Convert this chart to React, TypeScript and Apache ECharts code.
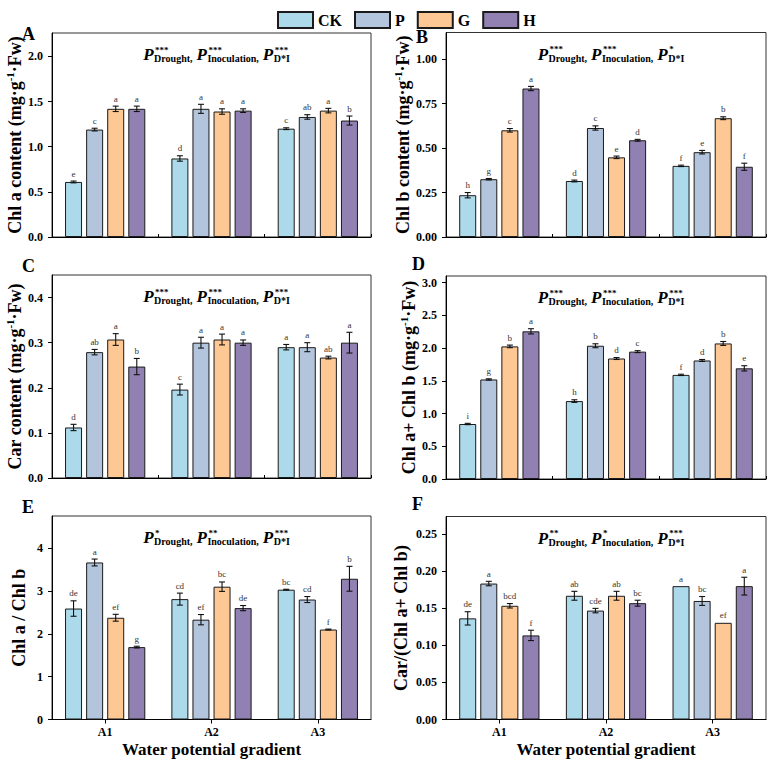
import React, { useEffect, useRef } from 'react';
import * as echarts from 'echarts';

const FONT = 'Liberation Serif';

const categories = ['A1', 'A2', 'A3'];
const groups = ['CK', 'P', 'G', 'H'];
const colors = ['#ADDAEA', '#B3C5DC', '#FEC894', '#9181B3'];

// Rows: CK, P, G, H ; columns: A1, A2, A3
const chlAMeans = [[0.61, 0.87, 1.2], [1.19, 1.42, 1.33], [1.42, 1.39, 1.4], [1.42, 1.4, 1.29]];
const chlAErrs = [[0.01, 0.03, 0.01], [0.015, 0.05, 0.025], [0.03, 0.03, 0.025], [0.03, 0.02, 0.05]];
const chlALetters = [['e', 'd', 'c'], ['c', 'a', 'ab'], ['a', 'a', 'a'], ['a', 'a', 'b']];

const chlBMeans = [[0.235, 0.315, 0.4], [0.325, 0.613, 0.477], [0.6, 0.448, 0.668], [0.835, 0.544, 0.395]];
const chlBErrs = [[0.015, 0.005, 0.004], [0.004, 0.012, 0.01], [0.01, 0.007, 0.008], [0.012, 0.005, 0.02]];
const chlBLetters = [['h', 'd', 'f'], ['g', 'c', 'e'], ['c', 'e', 'b'], ['a', 'd', 'f']];

const carMeans = [[0.112, 0.196, 0.29], [0.279, 0.3, 0.29], [0.307, 0.307, 0.267], [0.247, 0.3, 0.3]];
const carErrs = [[0.007, 0.012, 0.006], [0.006, 0.012, 0.01], [0.013, 0.012, 0.003], [0.018, 0.006, 0.023]];
const carLetters = [['d', 'c', 'a'], ['ab', 'a', 'a'], ['a', 'a', 'ab'], ['b', 'a', 'a']];

const sumMeans = [[0.84, 1.19, 1.59], [1.52, 2.035, 1.81], [2.025, 1.84, 2.07], [2.255, 1.945, 1.69]];
const sumErrs = [[0.01, 0.02, 0.01], [0.01, 0.03, 0.015], [0.02, 0.015, 0.03], [0.04, 0.015, 0.04]];
const sumLetters = [['i', 'h', 'f'], ['g', 'b', 'd'], ['b', 'd', 'b'], ['a', 'c', 'e']];

const ratioMeans = [[2.59, 2.81, 3.03], [3.665, 2.33, 2.8], [2.375, 3.1, 2.1], [1.69, 2.6, 3.285]];
const ratioErrs = [[0.18, 0.14, 0.01], [0.08, 0.12, 0.07], [0.08, 0.11, 0.01], [0.02, 0.06, 0.29]];
const ratioLetters = [['de', 'cd', 'bc'], ['a', 'ef', 'cd'], ['ef', 'bc', 'f'], ['g', 'de', 'b']];

const carRatioMeans = [[0.1365, 0.167, 0.18], [0.1835, 0.147, 0.16], [0.1535, 0.167, 0.1305], [0.1135, 0.157, 0.18]];
const carRatioErrs = [[0.009, 0.006, 0], [0.003, 0.003, 0.006], [0.003, 0.006, 0], [0.007, 0.004, 0.012]];
const carRatioLetters = [['de', 'ab', 'a'], ['a', 'cde', 'bc'], ['bcd', 'ab', 'ef'], ['f', 'bc', 'a']];

// y-axis tick labels
const ticksA = [0, 0.5, 1.0, 1.5, 2.0];
const ticksB = [0, 0.25, 0.5, 0.75, 1.0];
const ticksC = [0, 0.1, 0.2, 0.3, 0.4];
const ticksD = [0, 0.5, 1.0, 1.5, 2.0, 2.5, 3.0];
const ticksE = [0, 1, 2, 3, 4];
const ticksF = [0, 0.05, 0.1, 0.15, 0.2, 0.25];

// significance stars
const subLabels = ['Drought,', 'Inoculation,', 'D*I'];
const starsA = ['***', '***', '***'];
const starsB = ['***', '***', '*'];
const starsC = ['***', '***', '***'];
const starsD = ['***', '***', '***'];
const starsE = ['*', '**', '***'];
const starsF = ['**', '*', '***'];

const xTitle = 'Water potential gradient';

const SUPM = '{t|(mg·g}{s|-1}{t|·Fw)}';

const panels = [
  { letter: 'A', yName: '{t|Chl a content }' + SUPM, means: chlAMeans, errs: chlAErrs, letters: chlALetters, ticks: ticksA, max: 2.26, interval: 0.5, dec: 1, stars: starsA,
    grid: { left: 52, top: 33, width: 319, height: 204 }, nameGap: 24, lx: 22, ly: 34 },
  { letter: 'B', yName: '{t|Chl b content }' + SUPM, means: chlBMeans, errs: chlBErrs, letters: chlBLetters, ticks: ticksB, max: 1.15, interval: 0.25, dec: 2, stars: starsB,
    grid: { left: 446, top: 32.5, width: 320, height: 204.5 }, nameGap: 32, lx: 416, ly: 37 },
  { letter: 'C', yName: '{t|Car content }' + SUPM, means: carMeans, errs: carErrs, letters: carLetters, ticks: ticksC, max: 0.45, interval: 0.1, dec: 1, stars: starsC,
    grid: { left: 52, top: 275, width: 319, height: 203 }, nameGap: 24, lx: 22, ly: 265.5 },
  { letter: 'D', yName: '{t|Chl a+ Chl b }' + SUPM, means: sumMeans, errs: sumErrs, letters: sumLetters, ticks: ticksD, max: 3.1, interval: 0.5, dec: 1, stars: starsD,
    grid: { left: 446, top: 276, width: 320, height: 203 }, nameGap: 26, lx: 412, ly: 264 },
  { letter: 'E', yName: '{t|Chl a / Chl b}', means: ratioMeans, errs: ratioErrs, letters: ratioLetters, ticks: ticksE, max: 4.75, interval: 1, dec: 0, stars: starsE,
    grid: { left: 52, top: 516, width: 319, height: 203.5 }, nameGap: 22, lx: 22, ly: 507 },
  { letter: 'F', yName: '{t|Car/(Chl a+ Chl b)}', means: carRatioMeans, errs: carRatioErrs, letters: carRatioLetters, ticks: ticksF, max: 0.274, interval: 0.05, dec: 2, stars: starsF,
    grid: { left: 446, top: 516.5, width: 320, height: 203 }, nameGap: 34, lx: 412, ly: 504 },
];

const BAR_W = 17;
const BAR_GAP_RATIO = 0.24;
const STEP = BAR_W * (1 + BAR_GAP_RATIO);

const P_SIZE = 17;
const SUB_SIZE = 10;
const STAR_SIZE = 9;

function measure(text: string, font: string): number {
  const c = document.createElement('canvas').getContext('2d');
  if (!c) return text.length * 6;
  c.font = font;
  return c.measureText(text).width;
}

function annotation(p: any) {
  const els: any[] = [];
  const wP = measure('P', `italic bold ${P_SIZE}px '${FONT}'`);
  const parts = subLabels.map((s, k) => {
    const wSub = measure(s, `bold ${SUB_SIZE}px '${FONT}'`);
    const wStar = measure(p.stars[k], `bold ${STAR_SIZE}px '${FONT}'`);
    return { wSub, wStar };
  });
  const gap = 4;
  let total = 0;
  parts.forEach((pt, k) => {
    total += wP + 0.5 + Math.max(pt.wSub, pt.wStar + 1);
    if (k < 2) total += gap;
  });
  const cx = p.grid.left + p.grid.width / 2 + 5;
  let x = cx - total / 2;
  const top = p.grid.top;
  parts.forEach((pt, k) => {
    els.push({ type: 'text', x, y: top + 21.5, silent: true,
      style: { text: 'P', fontSize: P_SIZE, fontWeight: 'bold', fontStyle: 'italic', fontFamily: FONT, fill: '#000', align: 'left', verticalAlign: 'middle' } });
    const sx = x + wP + 0.5;
    els.push({ type: 'text', x: sx + 1, y: top + 16.5, silent: true,
      style: { text: p.stars[k], fontSize: STAR_SIZE, fontWeight: 'bold', fontFamily: FONT, fill: '#000', align: 'left', verticalAlign: 'middle' } });
    els.push({ type: 'text', x: sx, y: top + 25.5, silent: true,
      style: { text: subLabels[k], fontSize: SUB_SIZE, fontWeight: 'bold', fontFamily: FONT, fill: '#000', align: 'left', verticalAlign: 'middle' } });
    x = sx + Math.max(pt.wSub, pt.wStar + 1) + gap;
  });
  els.push({ type: 'text', x: p.lx, y: p.ly, silent: true,
    style: { text: p.letter, fontSize: 18, fontWeight: 'bold', fontFamily: FONT, fill: '#000', align: 'left', verticalAlign: 'middle' } });
  return els;
}

function buildOption() {
  const grids: any[] = [];
  const xAxes: any[] = [];
  const yAxes: any[] = [];
  const series: any[] = [];
  let graphics: any[] = [];

  panels.forEach((p, i) => {
    const bottomRow = i >= 4;
    grids.push({ ...p.grid, show: true, borderColor: '#333', borderWidth: 1, backgroundColor: 'transparent', containLabel: false });
    xAxes.push({
      type: 'category', gridIndex: i, data: categories,
      axisLine: { lineStyle: { color: '#000', width: 1 } },
      axisTick: bottomRow
        ? { show: true, alignWithLabel: true, inside: false, length: 4, lineStyle: { color: '#000' } }
        : { show: true, alignWithLabel: false, inside: true, length: 3, lineStyle: { color: '#000' } },
      axisLabel: { show: bottomRow, color: '#000', fontSize: 12, fontWeight: 'bold', fontFamily: FONT, margin: 6 },
      name: bottomRow ? xTitle : '',
      nameLocation: 'middle', nameGap: 21,
      nameTextStyle: { color: '#000', fontSize: 17, fontWeight: 'bold', fontFamily: FONT },
      splitLine: { show: false },
    });
    const ticks = p.ticks;
    yAxes.push({
      type: 'value', gridIndex: i, min: 0, max: p.max, interval: p.interval,
      axisLine: { show: true, lineStyle: { color: '#000', width: 1 } },
      axisTick: { show: true, inside: false, length: 4, lineStyle: { color: '#000' }, customValues: ticks },
      axisLabel: {
        color: '#000', fontSize: 12, fontWeight: 'bold', fontFamily: FONT, margin: 9,
        customValues: ticks,
        formatter: (v: number) => (ticks.some((t) => Math.abs(t - v) < 1e-9) ? v.toFixed(p.dec) : ''),
      },
      splitLine: { show: false },
      name: p.yName, nameLocation: 'middle', nameGap: p.nameGap, nameRotate: 90,
      nameTextStyle: {
        color: '#000',
        rich: {
          t: { fontSize: 18, fontWeight: 'bold', fontFamily: FONT, color: '#000', lineHeight: 22 },
          s: { fontSize: 11, fontWeight: 'bold', fontFamily: FONT, color: '#000', verticalAlign: 'top', lineHeight: 12 },
        },
      },
    });
    groups.forEach((g, gi) => {
      series.push({
        type: 'bar', name: g, xAxisIndex: i, yAxisIndex: i,
        data: p.means[gi], barWidth: BAR_W, barGap: BAR_GAP_RATIO * 100 + '%',
        itemStyle: { color: colors[gi], borderColor: '#1a1a1a', borderWidth: 1 },
        z: 2,
      });
    });
    const errData: any[] = [];
    const labelList: string[] = [];
    groups.forEach((g, gi) => {
      categories.forEach((c, ci) => {
        errData.push([ci, gi, p.means[gi][ci], p.errs[gi][ci]]);
        labelList.push(p.letters[gi][ci]);
      });
    });
    series.push({
      type: 'custom', xAxisIndex: i, yAxisIndex: i, z: 5, silent: true,
      data: errData,
      encode: { x: 0, y: 2 },
      renderItem: (params: any, api: any) => {
        const ci = api.value(0);
        const gi = api.value(1);
        const m = api.value(2);
        const e = api.value(3);
        const off = (gi - 1.5) * STEP;
        const hi = api.coord([ci, m + e]);
        const lo = api.coord([ci, m - e]);
        const x = hi[0] + off;
        const children: any[] = [];
        const ls = { stroke: '#111', lineWidth: 1.1 };
        if (e > 0) {
          children.push({ type: 'line', shape: { x1: x, y1: hi[1], x2: x, y2: lo[1] }, style: ls });
          children.push({ type: 'line', shape: { x1: x - 3, y1: hi[1], x2: x + 3, y2: hi[1] }, style: ls });
          children.push({ type: 'line', shape: { x1: x - 3, y1: lo[1], x2: x + 3, y2: lo[1] }, style: ls });
        }
        children.push({
          type: 'text', x, y: hi[1] - 3,
          style: { text: labelList[params.dataIndex], fontSize: 9, fontFamily: FONT, fill: '#333', align: 'center', verticalAlign: 'bottom' },
        });
        return { type: 'group', children };
      },
    });
    graphics = graphics.concat(annotation(p));
  });

  return {
    animation: false,
    backgroundColor: '#fff',
    textStyle: { fontFamily: FONT },
    legend: {
      data: groups, top: 6, left: 272, icon: 'rect',
      itemWidth: 35, itemHeight: 16, itemGap: 12,
      textStyle: { fontSize: 16, fontWeight: 'bold', fontFamily: FONT, color: '#000' },
      selectedMode: false,
    },
    grid: grids,
    xAxis: xAxes,
    yAxis: yAxes,
    series,
    graphic: graphics,
  };
}

export default function App() {
  const ref = useRef<HTMLDivElement>(null);
  useEffect(() => {
    if (!ref.current) return;
    const chart = echarts.init(ref.current, null, { renderer: 'svg' });
    chart.setOption(buildOption() as any);
    return () => chart.dispose();
  }, []);
  return <div ref={ref} style={{ position: 'absolute', left: 0, top: 0, width: 771, height: 762 }} />;
}
